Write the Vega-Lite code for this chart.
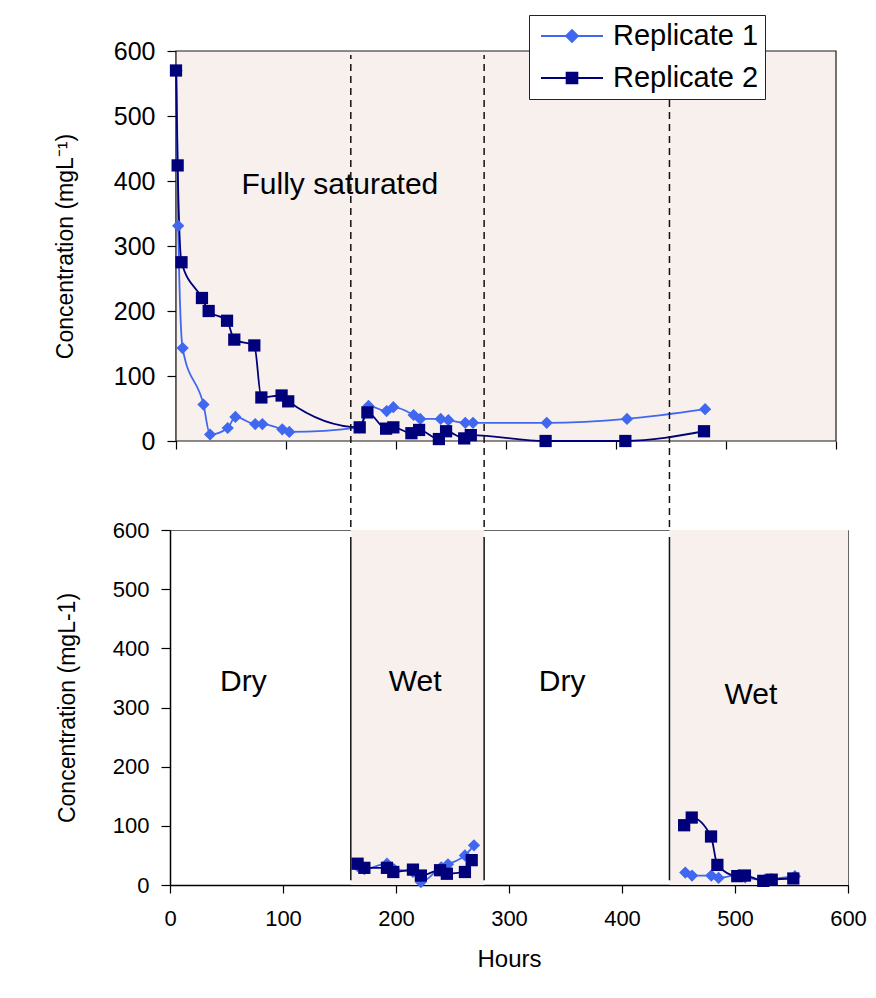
{
  "$schema": "https://vega.github.io/schema/vega-lite/v6.json",
  "background": "white",
  "padding": {"left": 54, "top": 14, "right": 5, "bottom": 5},
  "config": {
    "font": "Liberation Sans",
    "view": {"strokeWidth": 1},
    "axis": {
      "labelFont": "Liberation Sans",
      "titleFont": "Liberation Sans",
      "titleFontWeight": "normal",
      "labelColor": "black",
      "titleColor": "black",
      "domainColor": "black",
      "tickColor": "black",
      "domainWidth": 1.5,
      "tickWidth": 1.2,
      "grid": false,
      "labelFlush": false
    }
  },
  "datasets": {
    "obs": [
      {"panel": "sat", "cycle": "s", "series": "Replicate 1", "hours": 0.5, "conc": 570},
      {"panel": "sat", "cycle": "s", "series": "Replicate 1", "hours": 2, "conc": 331},
      {"panel": "sat", "cycle": "s", "series": "Replicate 1", "hours": 6, "conc": 143},
      {"panel": "sat", "cycle": "s", "series": "Replicate 1", "hours": 25, "conc": 56},
      {"panel": "sat", "cycle": "s", "series": "Replicate 1", "hours": 31, "conc": 10},
      {"panel": "sat", "cycle": "s", "series": "Replicate 1", "hours": 47, "conc": 20},
      {"panel": "sat", "cycle": "s", "series": "Replicate 1", "hours": 54, "conc": 37},
      {"panel": "sat", "cycle": "s", "series": "Replicate 1", "hours": 72, "conc": 26},
      {"panel": "sat", "cycle": "s", "series": "Replicate 1", "hours": 78.5, "conc": 26},
      {"panel": "sat", "cycle": "s", "series": "Replicate 1", "hours": 96.6, "conc": 18},
      {"panel": "sat", "cycle": "s", "series": "Replicate 1", "hours": 103, "conc": 14},
      {"panel": "sat", "cycle": "s", "series": "Replicate 1", "hours": 167, "conc": 21},
      {"panel": "sat", "cycle": "s", "series": "Replicate 1", "hours": 175, "conc": 54},
      {"panel": "sat", "cycle": "s", "series": "Replicate 1", "hours": 191.5, "conc": 46},
      {"panel": "sat", "cycle": "s", "series": "Replicate 1", "hours": 197.6, "conc": 52},
      {"panel": "sat", "cycle": "s", "series": "Replicate 1", "hours": 216, "conc": 40},
      {"panel": "sat", "cycle": "s", "series": "Replicate 1", "hours": 222, "conc": 34},
      {"panel": "sat", "cycle": "s", "series": "Replicate 1", "hours": 240.6, "conc": 34},
      {"panel": "sat", "cycle": "s", "series": "Replicate 1", "hours": 247.6, "conc": 32},
      {"panel": "sat", "cycle": "s", "series": "Replicate 1", "hours": 263, "conc": 28},
      {"panel": "sat", "cycle": "s", "series": "Replicate 1", "hours": 270, "conc": 28},
      {"panel": "sat", "cycle": "s", "series": "Replicate 1", "hours": 337, "conc": 28},
      {"panel": "sat", "cycle": "s", "series": "Replicate 1", "hours": 410, "conc": 34},
      {"panel": "sat", "cycle": "s", "series": "Replicate 1", "hours": 481, "conc": 49},
      {"panel": "sat", "cycle": "s", "series": "Replicate 2", "hours": 0, "conc": 570},
      {"panel": "sat", "cycle": "s", "series": "Replicate 2", "hours": 1.5, "conc": 424},
      {"panel": "sat", "cycle": "s", "series": "Replicate 2", "hours": 5, "conc": 275},
      {"panel": "sat", "cycle": "s", "series": "Replicate 2", "hours": 23.6, "conc": 220},
      {"panel": "sat", "cycle": "s", "series": "Replicate 2", "hours": 29.7, "conc": 200},
      {"panel": "sat", "cycle": "s", "series": "Replicate 2", "hours": 46.4, "conc": 185},
      {"panel": "sat", "cycle": "s", "series": "Replicate 2", "hours": 53, "conc": 156},
      {"panel": "sat", "cycle": "s", "series": "Replicate 2", "hours": 71.2, "conc": 147},
      {"panel": "sat", "cycle": "s", "series": "Replicate 2", "hours": 77.6, "conc": 67},
      {"panel": "sat", "cycle": "s", "series": "Replicate 2", "hours": 96, "conc": 70},
      {"panel": "sat", "cycle": "s", "series": "Replicate 2", "hours": 102, "conc": 61},
      {"panel": "sat", "cycle": "s", "series": "Replicate 2", "hours": 167, "conc": 21},
      {"panel": "sat", "cycle": "s", "series": "Replicate 2", "hours": 174, "conc": 44},
      {"panel": "sat", "cycle": "s", "series": "Replicate 2", "hours": 191, "conc": 19},
      {"panel": "sat", "cycle": "s", "series": "Replicate 2", "hours": 197.6, "conc": 21},
      {"panel": "sat", "cycle": "s", "series": "Replicate 2", "hours": 214, "conc": 12},
      {"panel": "sat", "cycle": "s", "series": "Replicate 2", "hours": 221, "conc": 17},
      {"panel": "sat", "cycle": "s", "series": "Replicate 2", "hours": 239, "conc": 3},
      {"panel": "sat", "cycle": "s", "series": "Replicate 2", "hours": 245.5, "conc": 15},
      {"panel": "sat", "cycle": "s", "series": "Replicate 2", "hours": 262, "conc": 4},
      {"panel": "sat", "cycle": "s", "series": "Replicate 2", "hours": 268, "conc": 9},
      {"panel": "sat", "cycle": "s", "series": "Replicate 2", "hours": 336, "conc": 0},
      {"panel": "sat", "cycle": "s", "series": "Replicate 2", "hours": 408.5, "conc": 0},
      {"panel": "sat", "cycle": "s", "series": "Replicate 2", "hours": 480, "conc": 15},
      {"panel": "wd", "cycle": "w1", "series": "Replicate 1", "hours": 166, "conc": 32},
      {"panel": "wd", "cycle": "w1", "series": "Replicate 1", "hours": 172, "conc": 27},
      {"panel": "wd", "cycle": "w1", "series": "Replicate 1", "hours": 192, "conc": 36},
      {"panel": "wd", "cycle": "w1", "series": "Replicate 1", "hours": 198, "conc": 27},
      {"panel": "wd", "cycle": "w1", "series": "Replicate 1", "hours": 215, "conc": 22},
      {"panel": "wd", "cycle": "w1", "series": "Replicate 1", "hours": 222, "conc": 5},
      {"panel": "wd", "cycle": "w1", "series": "Replicate 1", "hours": 240, "conc": 30},
      {"panel": "wd", "cycle": "w1", "series": "Replicate 1", "hours": 246, "conc": 35},
      {"panel": "wd", "cycle": "w1", "series": "Replicate 1", "hours": 261, "conc": 50},
      {"panel": "wd", "cycle": "w1", "series": "Replicate 1", "hours": 269, "conc": 67},
      {"panel": "wd", "cycle": "w2", "series": "Replicate 1", "hours": 456, "conc": 21},
      {"panel": "wd", "cycle": "w2", "series": "Replicate 1", "hours": 462, "conc": 16},
      {"panel": "wd", "cycle": "w2", "series": "Replicate 1", "hours": 479, "conc": 16},
      {"panel": "wd", "cycle": "w2", "series": "Replicate 1", "hours": 485.5, "conc": 12},
      {"panel": "wd", "cycle": "w2", "series": "Replicate 1", "hours": 503, "conc": 17},
      {"panel": "wd", "cycle": "w2", "series": "Replicate 1", "hours": 509, "conc": 13},
      {"panel": "wd", "cycle": "w2", "series": "Replicate 1", "hours": 526.5, "conc": 9},
      {"panel": "wd", "cycle": "w2", "series": "Replicate 1", "hours": 532, "conc": 10},
      {"panel": "wd", "cycle": "w2", "series": "Replicate 1", "hours": 553, "conc": 15},
      {"panel": "wd", "cycle": "w1", "series": "Replicate 2", "hours": 166, "conc": 36},
      {"panel": "wd", "cycle": "w1", "series": "Replicate 2", "hours": 172, "conc": 29},
      {"panel": "wd", "cycle": "w1", "series": "Replicate 2", "hours": 192, "conc": 29},
      {"panel": "wd", "cycle": "w1", "series": "Replicate 2", "hours": 197.6, "conc": 22},
      {"panel": "wd", "cycle": "w1", "series": "Replicate 2", "hours": 215, "conc": 26},
      {"panel": "wd", "cycle": "w1", "series": "Replicate 2", "hours": 222, "conc": 16},
      {"panel": "wd", "cycle": "w1", "series": "Replicate 2", "hours": 239, "conc": 25},
      {"panel": "wd", "cycle": "w1", "series": "Replicate 2", "hours": 245, "conc": 19},
      {"panel": "wd", "cycle": "w1", "series": "Replicate 2", "hours": 261, "conc": 22},
      {"panel": "wd", "cycle": "w1", "series": "Replicate 2", "hours": 267, "conc": 42},
      {"panel": "wd", "cycle": "w2", "series": "Replicate 2", "hours": 455, "conc": 101},
      {"panel": "wd", "cycle": "w2", "series": "Replicate 2", "hours": 461.7, "conc": 114},
      {"panel": "wd", "cycle": "w2", "series": "Replicate 2", "hours": 478.8, "conc": 82},
      {"panel": "wd", "cycle": "w2", "series": "Replicate 2", "hours": 484.4, "conc": 34},
      {"panel": "wd", "cycle": "w2", "series": "Replicate 2", "hours": 502, "conc": 15},
      {"panel": "wd", "cycle": "w2", "series": "Replicate 2", "hours": 508.8, "conc": 16},
      {"panel": "wd", "cycle": "w2", "series": "Replicate 2", "hours": 525, "conc": 7},
      {"panel": "wd", "cycle": "w2", "series": "Replicate 2", "hours": 532.5, "conc": 9},
      {"panel": "wd", "cycle": "w2", "series": "Replicate 2", "hours": 551.6, "conc": 11}
    ],
    "phases": [
      {"phase": "Dry", "start": 0, "end": 160},
      {"phase": "Wet", "start": 160, "end": 278},
      {"phase": "Dry", "start": 278, "end": 442},
      {"phase": "Wet", "start": 442, "end": 600}
    ],
    "saturated": [
      {"phase": "Fully saturated", "start": 0, "end": 600}
    ],
    "notes": [
      {"panel": "sat", "text": "Fully saturated", "hours": 149, "conc": 394},
      {"panel": "wd", "text": "Dry", "hours": 65, "conc": 343},
      {"panel": "wd", "text": "Wet", "hours": 217, "conc": 343},
      {"panel": "wd", "text": "Dry", "hours": 347, "conc": 343},
      {"panel": "wd", "text": "Wet", "hours": 514, "conc": 321}
    ]
  },
  "bounds": "flush",
  "spacing": 89,
  "resolve": {
    "scale": {"color": "independent", "shape": "independent"},
    "legend": {"color": "independent", "shape": "independent"}
  },
  "vconcat": [
    {
      "width": 666,
      "height": 390,
      "view": {"fill": null, "stroke": null},
      "layer": [
        {
          "data": {"name": "saturated"},
          "mark": {"type": "rect", "color": "#F7F0ED"},
          "encoding": {
            "x": {"field": "start", "type": "quantitative", "scale": {"domain": [-5.4545, 600], "nice": false, "zero": false},
              "axis": {"values": [0, 100, 200, 300, 400, 500, 600], "labels": false, "title": null, "tickSize": 8, "domain": false}},
            "x2": {"field": "end"},
            "y": {"datum": 0, "type": "quantitative", "scale": {"domain": [0, 600], "nice": false},
              "axis": {"values": [0, 100, 200, 300, 400, 500, 600], "title": "Concentration (mgL⁻¹)", "labelFontSize": 25, "titleFontSize": 23, "tickSize": 9, "labelPadding": 12, "titlePadding": 36, "offset": -6}},
            "y2": {"datum": 600}
          }
        },
        {
          "data": {"name": "saturated"},
          "mark": {"type": "rect", "filled": false, "stroke": "#1a1a1a", "strokeWidth": 1.2},
          "encoding": {
            "x": {"field": "start", "type": "quantitative"},
            "x2": {"field": "end"},
            "y": {"datum": 0, "type": "quantitative"},
            "y2": {"datum": 600}
          }
        },
        {
          "data": {"name": "notes"},
          "transform": [{"filter": "datum.panel === 'sat'"}],
          "mark": {"type": "text", "fontSize": 30, "align": "center", "baseline": "middle", "color": "black"},
          "encoding": {
            "x": {"field": "hours", "type": "quantitative"},
            "y": {"field": "conc", "type": "quantitative"},
            "text": {"field": "text"}
          }
        },
        {
          "data": {"name": "obs"},
          "transform": [{"filter": "datum.panel === 'sat'"}],
          "mark": {"type": "line", "interpolate": "monotone", "strokeWidth": 1.8},
          "encoding": {
            "x": {"field": "hours", "type": "quantitative"},
            "y": {"field": "conc", "type": "quantitative"},
            "color": {"field": "series", "type": "nominal",
              "scale": {"domain": ["Replicate 1", "Replicate 2"], "range": ["#3F67F0", "#00007A"]},
              "legend": {
                "orient": "none", "legendX": 359, "legendY": -36, "title": null,
                "labelFontSize": 29, "labelFont": "Liberation Sans", "labelColor": "black", "labelLimit": 0,
                "symbolSize": 784, "symbolStrokeWidth": 2, "symbolOffset": 22, "labelOffset": 26,
                "rowPadding": 12, "padding": 6,
                "strokeColor": "#222", "fillColor": "white",
                "encode": {
                  "symbols": {
                    "update": {
                      "shape": {"signal": "datum.value === 'Replicate 1' ? 'M-2.214,0H2.214M0,-0.42L0.42,0L0,0.42L-0.42,0Z' : 'M-2.214,0H2.214M-0.38,-0.38H0.38V0.38H-0.38Z'"},
                      "fill": {"signal": "datum.value === 'Replicate 1' ? '#3F67F0' : '#00007A'"},
                      "stroke": {"signal": "datum.value === 'Replicate 1' ? '#3F67F0' : '#00007A'"},
                      "strokeWidth": {"value": 2},
                      "opacity": {"value": 1},
                      "fillOpacity": {"value": 1}
                    }
                  }
                }
              }
            }
          }
        },
        {
          "data": {"name": "obs"},
          "transform": [{"filter": "datum.panel === 'sat'"}],
          "mark": {"type": "point", "filled": true, "opacity": 1, "size": 150},
          "encoding": {
            "x": {"field": "hours", "type": "quantitative"},
            "y": {"field": "conc", "type": "quantitative"},
            "color": {"field": "series", "type": "nominal"},
            "shape": {"field": "series", "type": "nominal", "scale": {"range": ["diamond", "square"]}, "legend": null}
          }
        }
      ]
    },
    {
      "width": 678,
      "height": 355,
      "view": {"fill": "white", "stroke": "#666"},
      "layer": [
        {
          "data": {"name": "phases"},
          "transform": [{"filter": "datum.phase === 'Wet'"}],
          "mark": {"type": "rect", "color": "#F7F0ED"},
          "encoding": {
            "x": {"field": "start", "type": "quantitative", "scale": {"domain": [0, 600], "nice": false},
              "axis": {"values": [0, 100, 200, 300, 400, 500, 600], "title": "Hours", "labelFontSize": 22, "titleFontSize": 24, "tickSize": 8, "labelPadding": 15, "titlePadding": 18}},
            "x2": {"field": "end"},
            "y": {"datum": 0, "type": "quantitative", "scale": {"domain": [0, 600], "nice": false},
              "axis": {"values": [0, 100, 200, 300, 400, 500, 600], "title": "Concentration (mgL-1)", "labelFontSize": 22, "titleFontSize": 23, "tickSize": 9, "labelPadding": 12, "titlePadding": 33}},
            "y2": {"datum": 600}
          }
        },
        {
          "data": {"name": "phases"},
          "transform": [{"filter": "datum.start > 0"}],
          "mark": {"type": "rule", "color": "#111", "strokeWidth": 1.5},
          "encoding": {
            "x": {"field": "start", "type": "quantitative"},
            "y": {"datum": 8, "type": "quantitative"},
            "y2": {"datum": 588}
          }
        },
        {
          "data": {"name": "phases"},
          "transform": [{"filter": "datum.start > 0 && datum.start < 400"}],
          "mark": {"type": "rule", "color": "#111", "strokeWidth": 1.5, "strokeDash": [7, 5], "clip": false},
          "encoding": {
            "x": {"field": "start", "type": "quantitative"},
            "y": {"datum": 605, "type": "quantitative"},
            "y2": {"datum": 1403}
          }
        },
        {
          "data": {"name": "phases"},
          "transform": [{"filter": "datum.start > 400"}],
          "mark": {"type": "rule", "color": "#111", "strokeWidth": 1.5, "strokeDash": [7, 5], "clip": false},
          "encoding": {
            "x": {"field": "start", "type": "quantitative"},
            "y": {"datum": 605, "type": "quantitative"},
            "y2": {"datum": 1328}
          }
        },
        {
          "data": {"name": "notes"},
          "transform": [{"filter": "datum.panel === 'wd'"}],
          "mark": {"type": "text", "fontSize": 30, "align": "center", "baseline": "middle", "color": "black"},
          "encoding": {
            "x": {"field": "hours", "type": "quantitative"},
            "y": {"field": "conc", "type": "quantitative"},
            "text": {"field": "text"}
          }
        },
        {
          "data": {"name": "obs"},
          "transform": [{"filter": "datum.panel === 'wd'"}],
          "mark": {"type": "line", "interpolate": "monotone", "strokeWidth": 1.8},
          "encoding": {
            "x": {"field": "hours", "type": "quantitative"},
            "y": {"field": "conc", "type": "quantitative"},
            "detail": {"field": "cycle"},
            "color": {"field": "series", "type": "nominal",
              "scale": {"domain": ["Replicate 1", "Replicate 2"], "range": ["#3F67F0", "#00007A"]},
              "legend": null}
          }
        },
        {
          "data": {"name": "obs"},
          "transform": [{"filter": "datum.panel === 'wd'"}],
          "mark": {"type": "point", "filled": true, "opacity": 1, "size": 150},
          "encoding": {
            "x": {"field": "hours", "type": "quantitative"},
            "y": {"field": "conc", "type": "quantitative"},
            "color": {"field": "series", "type": "nominal", "legend": null},
            "shape": {"field": "series", "type": "nominal", "scale": {"range": ["diamond", "square"]}, "legend": null}
          }
        }
      ]
    }
  ]
}
